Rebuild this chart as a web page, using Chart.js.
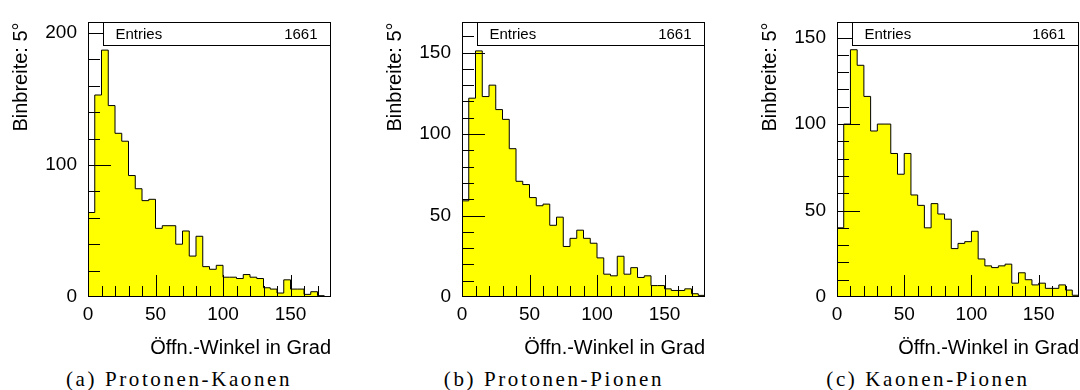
<!DOCTYPE html>
<html>
<head>
<meta charset="utf-8">
<script src="https://cdn.jsdelivr.net/npm/chart.js@4.4.1/dist/chart.umd.min.js"></script>
<style>
  body { margin: 0; background: #fff; width: 1080px; height: 390px; position: relative; overflow: hidden; }
  canvas { position: absolute; top: 0; }
  .cap { position: absolute; top: 366px; font-family: "Liberation Serif", "Times New Roman", serif; font-size: 21px;
         letter-spacing: 2.6px; white-space: nowrap; transform: translateX(-50%); line-height: 26px; color: #000; }
</style>
</head>
<body>
<canvas id="pk" width="340" height="362" style="left:0px"></canvas>
<canvas id="pp" width="350" height="362" style="left:360px"></canvas>
<canvas id="kp" width="360" height="362" style="left:720px"></canvas>
<div class="cap" style="left:179px">(a) Protonen-Kaonen</div>
<div class="cap" style="left:554px">(b) Protonen-Pionen</div>
<div class="cap" style="left:928px">(c) Kaonen-Pionen</div>
<script>
// lower bin edges, 5 degree bins
const binLow = [0, 5, 10, 15, 20, 25, 30, 35, 40, 45, 50, 55, 60, 65, 70, 75, 80, 85,
                90, 95, 100, 105, 110, 115, 120, 125, 130, 135, 140, 145, 150, 155, 160, 165, 170, 175];
const xMax = 180;
const xTicks = [0, 50, 100, 150];

// counts per bin
const protonenKaonen = [64, 153, 187, 145, 124, 118, 92, 82, 73, 74, 52, 54, 54, 40, 50, 31, 46, 23,
                        21, 24, 15, 15, 14, 17, 15, 14, 7, 6, 3, 13, 6, 6, 2, 4, 1, 0];
const protonenPionen = [59, 122, 151, 123, 130, 115, 109, 91, 71, 69, 61, 56, 57, 44, 49, 31, 36, 41,
                        36, 33, 24, 14, 13, 25, 14, 18, 12, 13, 7, 7, 5, 4, 4, 5, 2, 1];
const kaonenPionen = [40, 100, 143, 134, 116, 96, 100, 100, 83, 71, 83, 59, 53, 40, 54, 48, 45, 28,
                      31, 32, 38, 22, 18, 17, 18, 19, 8, 14, 10, 7, 8, 5, 5, 7, 4, 1];

const entries = [1661, 1661, 1661];
const yTicksA = [0, 100, 200];
const yTicksBC = [0, 50, 100, 150];

Chart.defaults.font.family = '"Liberation Sans", Arial, Helvetica, sans-serif';
Chart.defaults.color = '#000';

// ROOT style: inward ticks, full frame, stats box
const histFrame = {
  id: 'histFrame',
  afterDatasetsDraw(chart, args, opts) {
    const { ctx, chartArea: a, scales: { x, y } } = chart;
    ctx.save();
    ctx.strokeStyle = '#000';
    ctx.lineWidth = 1;
    ctx.beginPath();
    for (let v = 10; v < xMax; v += 10) {
      const px = Math.round(x.getPixelForValue(v)) + 0.5;
      const len = v % 50 === 0 ? 22 : 11;
      ctx.moveTo(px, a.bottom);
      ctx.lineTo(px, a.bottom - len);
    }
    for (let v = opts.minor; v < y.max; v += opts.minor) {
      const py = Math.round(y.getPixelForValue(v)) + 0.5;
      const len = v % opts.major === 0 ? 23 : 12;
      ctx.moveTo(a.left, py);
      ctx.lineTo(a.left + len, py);
    }
    ctx.stroke();

    const l = Math.round(a.left) + 0.5, r = Math.round(a.right) - 0.5;
    const t = Math.round(a.top) + 0.5, b = Math.round(a.bottom) - 0.5;
    ctx.strokeRect(l, t, r - l, b - t);

    // stats box
    const bx = l + 15, bh = 23;
    ctx.fillStyle = '#fff';
    ctx.fillRect(bx, t, r - bx, bh);
    ctx.strokeRect(bx, t, r - bx, bh);
    ctx.fillStyle = '#000';
    ctx.font = '15px "Liberation Sans", Arial, sans-serif';
    ctx.textBaseline = 'middle';
    ctx.textAlign = 'left';
    ctx.fillText('Entries', bx + 12, t + 12);
    ctx.textAlign = 'right';
    ctx.fillText(String(opts.entries), r - 13, t + 12);
    ctx.restore();
  }
};

function makeHist(id, counts, yMax, yTicks, minor, major, nEntries, padLeft, padRight) {
  const pts = binLow.map((lo, i) => ({ x: lo, y: counts[i] }));
  pts.push({ x: xMax, y: counts[counts.length - 1] });

  new Chart(document.getElementById(id), {
    type: 'line',
    data: {
      datasets: [{
        data: pts,
        stepped: true,
        fill: 'origin',
        backgroundColor: '#ffff00',
        borderColor: '#000',
        borderWidth: 1,
        pointRadius: 0,
      }],
    },
    options: {
      responsive: false,
      animation: false,
      layout: { padding: { left: padLeft, right: padRight, top: 13, bottom: 0 } },
      plugins: {
        legend: { display: false },
        tooltip: { enabled: false },
        histFrame: { minor: minor, major: major, entries: nEntries },
      },
      scales: {
        x: {
          type: 'linear',
          min: 0,
          max: xMax,
          grid: { display: false, drawTicks: false },
          border: { display: false },
          afterBuildTicks: s => { s.ticks = xTicks.map(v => ({ value: v })); },
          afterFit: s => { s.height = 65; },
          ticks: { font: { size: 19 }, padding: 6, maxRotation: 0, autoSkip: false },
          title: {
            display: true, text: 'Öffn.-Winkel in Grad', align: 'end',
            font: { size: 20 }, padding: { top: 0, bottom: 2 },
          },
        },
        y: {
          min: 0,
          max: yMax,
          grid: { display: false, drawTicks: false },
          border: { display: false },
          afterBuildTicks: s => { s.ticks = yTicks.map(v => ({ value: v })); },
          afterFit: s => { s.width = 79; },
          ticks: { font: { size: 19 }, padding: 11 },
          title: {
            display: true, text: 'Binbreite: 5°', align: 'end',
            font: { size: 20 }, padding: { top: 0, bottom: 0 },
          },
        },
      },
    },
    plugins: [histFrame],
  });
}

makeHist('pk', protonenKaonen, 208, yTicksA, 20, 100, entries[0], 9, 9);
makeHist('pp', protonenPionen, 168.5, yTicksBC, 10, 50, entries[1], 23, 5);
makeHist('kp', kaonenPionen, 158.8, yTicksBC, 10, 50, entries[2], 38, 1);
</script>
</body>
</html>
